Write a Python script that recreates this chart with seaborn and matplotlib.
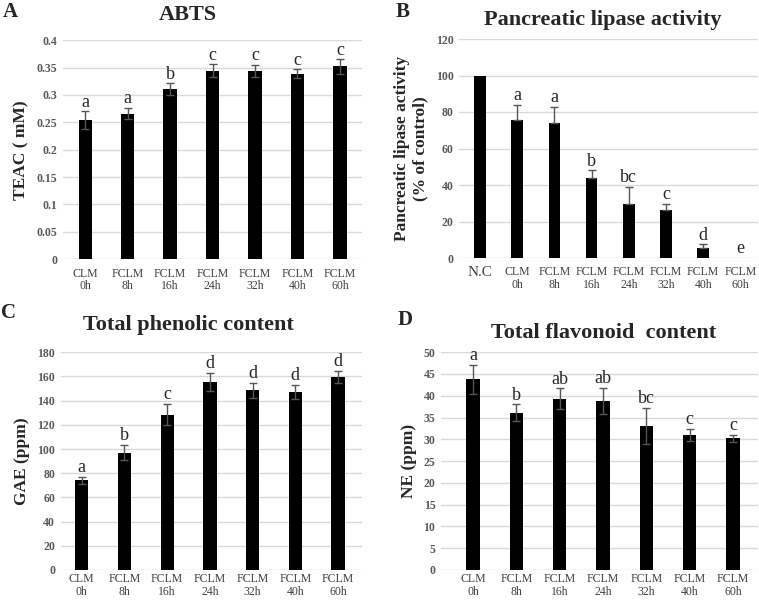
import numpy as np
import pandas as pd
import seaborn as sns
from matplotlib import pyplot as plt

# ---- data ----
groups_a = ['CLM\n0h', 'FCLM\n8h', 'FCLM\n16h', 'FCLM\n24h', 'FCLM\n32h', 'FCLM\n40h', 'FCLM\n60h']
abts = [0.254, 0.266, 0.310, 0.344, 0.344, 0.339, 0.352]
abts_err = [0.016, 0.010, 0.011, 0.012, 0.011, 0.008, 0.013]
abts_sig = ['a', 'a', 'b', 'c', 'c', 'c', 'c']

groups_b = ['N.C', 'CLM\n0h', 'FCLM\n8h', 'FCLM\n16h', 'FCLM\n24h', 'FCLM\n32h', 'FCLM\n40h', 'FCLM\n60h']
lipase = [100, 75.5, 74, 44, 29.5, 26.5, 5.5, 0]
lipase_err = [0, 8.5, 9, 4, 9.5, 3, 2, 0]
lipase_sig = ['', 'a', 'a', 'b', 'bc', 'c', 'd', 'e']

phenolic = [74, 97, 128.5, 155.5, 148.5, 147, 159.5]
phenolic_err = [3, 6.5, 9, 7.5, 6, 6, 5]
phenolic_sig = ['a', 'b', 'c', 'd', 'd', 'd', 'd']

flavonoid = [43.8, 36.1, 39.3, 38.8, 33.1, 31.0, 30.2]
flavonoid_err = [3.3, 1.9, 2.4, 3.0, 4.2, 1.4, 0.8]
flavonoid_sig = ['a', 'b', 'ab', 'ab', 'bc', 'c', 'c']

sns.set_style('whitegrid')
plt.rcParams['font.family'] = ['Liberation Serif', 'DejaVu Serif']

fig = plt.figure(figsize=(7.59, 6.0), dpi=100)


def panel(rect, cats, vals, errs, sig, ymax, ystep, title, title_xy, ylabel, xlim,
          lower=True, yfmt=None, xsize=8.5, xpad=6):
    ax = fig.add_axes(rect)
    df = pd.DataFrame({'group': cats, 'value': vals})
    sns.barplot(data=df, x='group', y='value', color='black', width=0.31,
                errorbar=None, ax=ax, saturation=1, linewidth=0)
    pos = np.arange(len(cats))
    v = np.array(vals, dtype=float)
    e = np.array(errs, dtype=float)
    m = e > 0
    yerr = [e[m], e[m]] if lower else [np.zeros(m.sum()), e[m]]
    ax.errorbar(pos[m], v[m], yerr=yerr, fmt='none', ecolor='#555555',
                elinewidth=1, capsize=3, capthick=1)
    for p, val, er, s in zip(pos, vals, errs, sig):
        ax.annotate(s, (p, val + er), xytext=(0, 0.5), textcoords='offset points',
                    ha='center', va='bottom', fontsize=13)
    ax.set_ylim(0, ymax)
    ticks = np.arange(0, ymax + ystep / 2, ystep)
    ax.set_yticks(ticks)
    if yfmt:
        ax.set_yticklabels([yfmt(t) for t in ticks])
    ax.set_xlim(*xlim)
    ax.grid(axis='x', visible=False)
    ax.grid(axis='y', color='#d9d9d9', linewidth=1)
    for sp in ax.spines.values():
        sp.set_visible(False)
    ax.tick_params(axis='y', labelsize=8.5, labelcolor='#595959', length=0, pad=4)
    ax.tick_params(axis='x', labelsize=xsize, labelcolor='#404040', length=0, pad=xpad)
    for t in ax.get_yticklabels():
        t.set_fontweight('bold')
    for t in ax.get_xticklabels():
        t.set_linespacing(1.05)
    ax.set_xlabel('')
    ax.set_ylabel(ylabel, fontsize=12.5, fontweight='bold', labelpad=5)
    ax.text(title_xy[0], title_xy[1], title, transform=ax.transAxes, fontsize=16,
            fontweight='bold', ha='center', va='center')
    return ax


def fmt_a(t):
    return ('%.2f' % t).rstrip('0').rstrip('.')


ax_a = panel([0.083, 0.568, 0.394, 0.365], groups_a, abts, abts_err, abts_sig,
             0.4, 0.05, 'ABTS', (0.418, 1.114), 'TEAC ( mM)', (-0.52, 6.52), yfmt=fmt_a)
ax_b = panel([0.605, 0.570, 0.394, 0.365], groups_b, lipase, lipase_err, lipase_sig,
             120, 20, 'Pancreatic lipase activity', (0.48, 1.087),
             'Pancreatic lipase activity\n(% of control)', (-0.56, 7.48), lower=False)
ax_b.get_xticklabels()[0].set_fontsize(11)
ax_c = panel([0.080, 0.050, 0.397, 0.363], groups_a, phenolic, phenolic_err, phenolic_sig,
             180, 20, 'Total phenolic content', (0.425, 1.125), 'GAE (ppm)', (-0.49, 6.56),
             xpad=2.5)
ax_d = panel([0.581, 0.050, 0.418, 0.363], groups_a, flavonoid, flavonoid_err, flavonoid_sig,
             50, 5, 'Total flavonoid  content', (0.514, 1.088), 'NE (ppm)', (-0.74, 6.58),
             xpad=2.5)

for lab, (x, y) in zip('ABCD', [(0.013, 0.98), (0.53, 0.98), (0.011, 0.478), (0.534, 0.467)]):
    fig.text(x, y, lab, fontsize=15, fontweight='bold', ha='center', va='center')

fig.savefig('out.png', dpi=100)
